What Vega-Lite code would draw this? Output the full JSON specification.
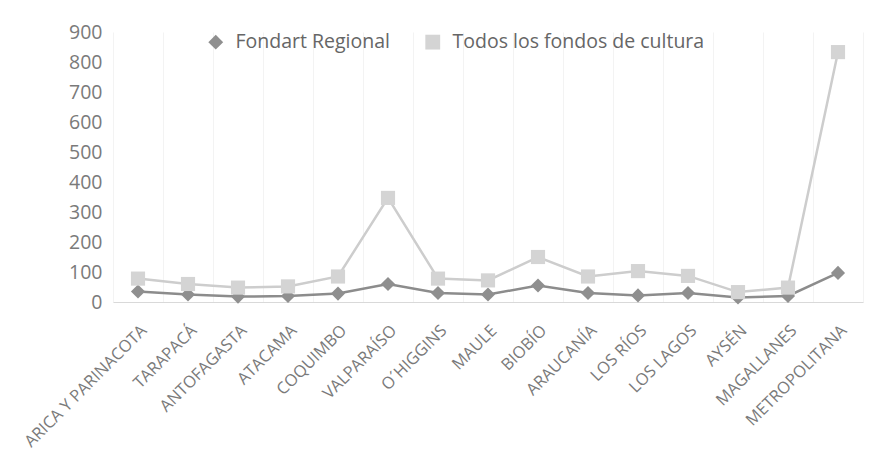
{
  "$schema": "https://vega.github.io/schema/vega-lite/v6.json",
  "autosize": "none",
  "padding": {"left": 113, "top": 32, "right": 14, "bottom": 155},
  "width": 750,
  "height": 270,
  "background": "white",
  "config": {
    "view": {"stroke": null},
    "font": "Open Sans"
  },
  "data": {
    "values": [
      {"region": "ARICA Y PARINACOTA", "serie": "Fondart Regional", "valor": 35},
      {"region": "TARAPACÁ", "serie": "Fondart Regional", "valor": 25},
      {"region": "ANTOFAGASTA", "serie": "Fondart Regional", "valor": 18},
      {"region": "ATACAMA", "serie": "Fondart Regional", "valor": 20},
      {"region": "COQUIMBO", "serie": "Fondart Regional", "valor": 28},
      {"region": "VALPARAÍSO", "serie": "Fondart Regional", "valor": 60},
      {"region": "O´HIGGINS", "serie": "Fondart Regional", "valor": 30},
      {"region": "MAULE", "serie": "Fondart Regional", "valor": 25},
      {"region": "BIOBÍO", "serie": "Fondart Regional", "valor": 55},
      {"region": "ARAUCANÍA", "serie": "Fondart Regional", "valor": 30},
      {"region": "LOS RÍOS", "serie": "Fondart Regional", "valor": 22},
      {"region": "LOS LAGOS", "serie": "Fondart Regional", "valor": 30},
      {"region": "AYSÉN", "serie": "Fondart Regional", "valor": 15},
      {"region": "MAGALLANES", "serie": "Fondart Regional", "valor": 20},
      {"region": "METROPOLITANA", "serie": "Fondart Regional", "valor": 97},
      {"region": "ARICA Y PARINACOTA", "serie": "Todos los fondos de cultura", "valor": 78},
      {"region": "TARAPACÁ", "serie": "Todos los fondos de cultura", "valor": 60},
      {"region": "ANTOFAGASTA", "serie": "Todos los fondos de cultura", "valor": 48},
      {"region": "ATACAMA", "serie": "Todos los fondos de cultura", "valor": 52},
      {"region": "COQUIMBO", "serie": "Todos los fondos de cultura", "valor": 85},
      {"region": "VALPARAÍSO", "serie": "Todos los fondos de cultura", "valor": 347},
      {"region": "O´HIGGINS", "serie": "Todos los fondos de cultura", "valor": 78},
      {"region": "MAULE", "serie": "Todos los fondos de cultura", "valor": 72},
      {"region": "BIOBÍO", "serie": "Todos los fondos de cultura", "valor": 150},
      {"region": "ARAUCANÍA", "serie": "Todos los fondos de cultura", "valor": 85},
      {"region": "LOS RÍOS", "serie": "Todos los fondos de cultura", "valor": 103},
      {"region": "LOS LAGOS", "serie": "Todos los fondos de cultura", "valor": 87},
      {"region": "AYSÉN", "serie": "Todos los fondos de cultura", "valor": 33},
      {"region": "MAGALLANES", "serie": "Todos los fondos de cultura", "valor": 48},
      {"region": "METROPOLITANA", "serie": "Todos los fondos de cultura", "valor": 833}
    ]
  },
  "encoding": {
    "x": {
      "field": "region",
      "type": "nominal",
      "sort": null,
      "bandPosition": 0.5,
      "scale": {"type": "band", "paddingInner": 0, "paddingOuter": 0},
      "axis": {
        "title": null,
        "tickBand": "extent",
        "labelAngle": -45,
        "labelAlign": "right",
        "labelBaseline": "top",
        "labelFontSize": 16.5,
        "labelColor": "#7a7a7a",
        "labelPadding": 20,
        "labelLimit": 0,
        "ticks": false,
        "domainColor": "#d9d9d9",
        "domainWidth": 1,
        "grid": true,
        "gridColor": "#f3f3f3",
        "gridWidth": 1
      }
    },
    "y": {
      "field": "valor",
      "type": "quantitative",
      "scale": {"domain": [0, 900], "nice": false},
      "axis": {
        "title": null,
        "values": [0, 100, 200, 300, 400, 500, 600, 700, 800, 900],
        "domain": false,
        "ticks": false,
        "grid": false,
        "labelFontSize": 19.5,
        "labelColor": "#7a7a7a",
        "labelPadding": 11
      }
    }
  },
  "layer": [
    {
      "transform": [{"filter": "datum.serie === 'Todos los fondos de cultura'"}],
      "mark": {"type": "line", "strokeWidth": 2.5, "color": "#cdcdcd"},
      "encoding": {}
    },
    {
      "transform": [{"filter": "datum.serie === 'Fondart Regional'"}],
      "mark": {"type": "line", "strokeWidth": 2.5, "color": "#8c8c8c"},
      "encoding": {}
    },
    {
      "mark": {"type": "point", "filled": true, "size": 200, "opacity": 1},
      "encoding": {
        "color": {
          "field": "serie",
          "type": "nominal",
          "scale": {"domain": ["Fondart Regional", "Todos los fondos de cultura"], "range": ["#8f8f8f", "#d4d4d4"]},
          "legend": {
            "title": null,
            "orient": "none",
            "direction": "horizontal",
            "legendX": 93,
            "legendY": 0,
            "labelFontSize": 19.5,
            "labelColor": "#666666",
            "labelLimit": 0,
            "symbolSize": 220,
            "columnPadding": 33,
            "labelOffset": 10
          }
        },
        "shape": {
          "field": "serie",
          "type": "nominal",
          "scale": {"domain": ["Fondart Regional", "Todos los fondos de cultura"], "range": ["diamond", "square"]}
        }
      }
    }
  ]
}
